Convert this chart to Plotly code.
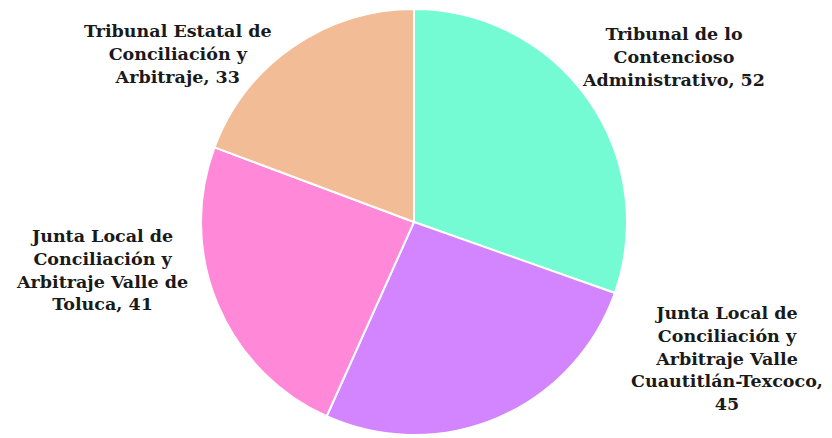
import plotly.graph_objects as go

labels = [
    "Tribunal de lo Contencioso Administrativo",
    "Junta Local de Conciliación y Arbitraje Valle Cuautitlán-Texcoco",
    "Junta Local de Conciliación y Arbitraje Valle de Toluca",
    "Tribunal Estatal de Conciliación y Arbitraje",
]
label_lines = [
    ["Tribunal de lo", "Contencioso", "Administrativo, {v}"],
    ["Junta Local de", "Conciliación y", "Arbitraje Valle", "Cuautitlán-Texcoco,", "{v}"],
    ["Junta Local de", "Conciliación y", "Arbitraje Valle de", "Toluca, {v}"],
    ["Tribunal Estatal de", "Conciliación y", "Arbitraje, {v}"],
]
values = [52, 45, 41, 33]
colors = ["#74FBD3", "#D384FF", "#FF88D9", "#F2BC96"]

W, H = 832, 438
OFF = 8  # page body margin
cx, cy, r = 414 - OFF, 222 - OFF, 213

fig = go.Figure(go.Pie(
    labels=labels,
    values=values,
    sort=False,
    direction="clockwise",
    rotation=0,
    marker=dict(colors=colors, line=dict(color="white", width=2)),
    textinfo="none",
    hoverinfo="label+value",
    showlegend=False,
    domain=dict(x=[(cx - r) / W, (cx + r) / W], y=[(H - cy - r) / H, (H - cy + r) / H]),
))

# label anchor points (pixels in window) for each slice
label_pos = [(673, 57), (727, 358), (102, 270), (178, 54)]
font = dict(family="Palatino Linotype, Book Antiqua, Palatino, DejaVu Serif, serif", size=17.5, color="#1a1a1a")
for lines, v, (px, py) in zip(label_lines, values, label_pos):
    text = "<br>".join(l.format(v=v) for l in lines)
    fig.add_annotation(
        text="<b>" + text + "</b>",
        x=(px - OFF) / W, y=1 - (py - OFF) / H, xref="paper", yref="paper",
        xanchor="center", yanchor="middle", align="center",
        showarrow=False, font=font,
    )

fig.update_layout(
    width=W, height=H,
    margin=dict(l=0, r=0, t=0, b=0),
    paper_bgcolor="white", plot_bgcolor="white",
)
fig.write_html("out.html")
